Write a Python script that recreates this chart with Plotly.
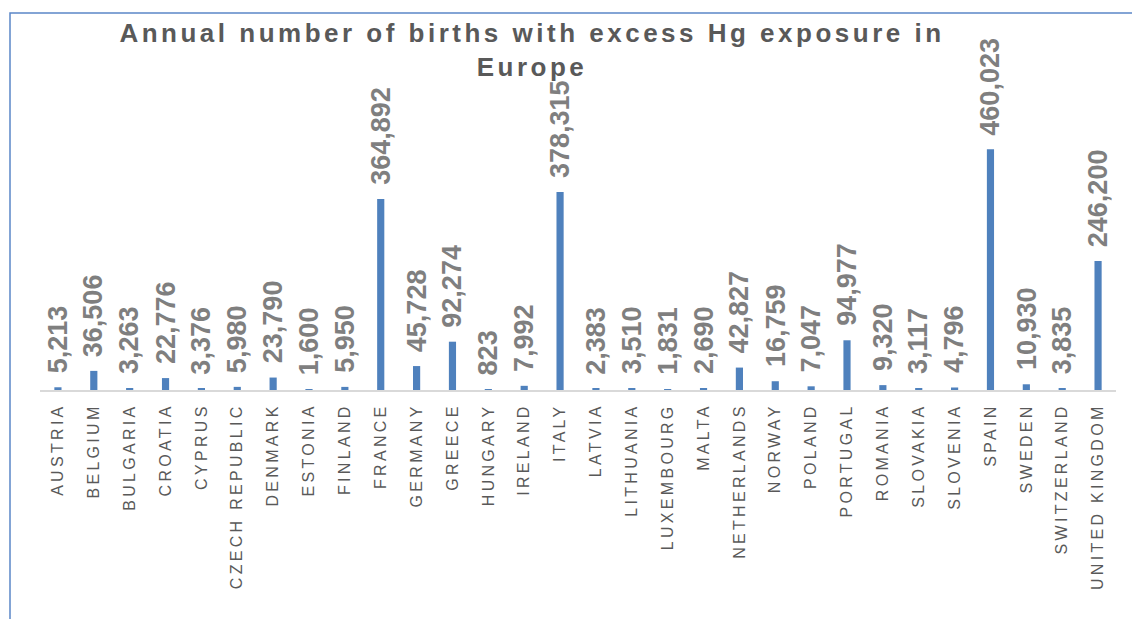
import plotly.graph_objects as go

countries = ["AUSTRIA", "BELGIUM", "BULGARIA", "CROATIA", "CYPRUS", "CZECH REPUBLIC",
             "DENMARK", "ESTONIA", "FINLAND", "FRANCE", "GERMANY", "GREECE", "HUNGARY",
             "IRELAND", "ITALY", "LATVIA", "LITHUANIA", "LUXEMBOURG", "MALTA",
             "NETHERLANDS", "NORWAY", "POLAND", "PORTUGAL", "ROMANIA", "SLOVAKIA",
             "SLOVENIA", "SPAIN", "SWEDEN", "SWITZERLAND", "UNITED KINGDOM"]
births = [5213, 36506, 3263, 22776, 3376, 5980, 23790, 1600, 5950, 364892, 45728,
          92274, 823, 7992, 378315, 2383, 3510, 1831, 2690, 42827, 16759, 7047,
          94977, 9320, 3117, 4796, 460023, 10930, 3835, 246200]
title_text = "Annual number of births with excess Hg exposure in<br>Europe"

W, H = 1132, 619
ML, MR, MT, MB = 40, 16, 100, 229

fig = go.Figure(go.Bar(
    x=countries, y=births,
    marker=dict(color="#4F81BD", line=dict(width=0)),
    hoverinfo="x+y",
))

for c, v in zip(countries, births):
    fig.add_annotation(
        x=c, y=v, text=f"{v:,}", textangle=-90, showarrow=False,
        xanchor="center", yanchor="bottom", yshift=12, xshift=0,
        font=dict(family="Liberation Sans, Arial, sans-serif", size=27,
                  color="#7F7F7F", weight="bold"),
    )

plot_h = H - MT - MB
fig.add_shape(type="rect", xref="paper", yref="paper",
              x0=(10 - ML) / (W - ML - MR), x1=1.2,
              y0=-1.0, y1=(plot_h + MT - 13) / plot_h,
              line=dict(color="#5B87C8", width=1.5), fillcolor="rgba(0,0,0,0)",
              layer="below")

fig.update_layout(
    width=W, height=H,
    margin=dict(l=ML, r=MR, t=MT, b=MB, autoexpand=False),
    paper_bgcolor="white", plot_bgcolor="white",
    bargap=0.8,
    showlegend=False,
    title=dict(text=title_text, x=532 / W, xanchor="center", xref="container",
               y=1 - 42 / H, yanchor="top", yref="container",
               font=dict(family="Liberation Sans, Arial, sans-serif", size=26,
                         color="#595959", weight="bold")),
    xaxis=dict(
        type="category", tickmode="array", tickvals=countries, ticktext=countries,
        tickangle=-90, showline=True, linecolor="#D9D9D9", linewidth=2,
        showgrid=False, zeroline=False, ticks="", ticklabelstandoff=5,
        tickfont=dict(family="Liberation Sans, Arial, sans-serif", size=16, color="#595959"),
    ),
    yaxis=dict(range=[0, 554000], visible=False, showgrid=False, zeroline=False),
)

post = ("document.body.style.margin='0';"
        "var s=document.createElement('style');"
        "s.textContent='body{margin:0}.gtitle{letter-spacing:3.5px}.xtick text{letter-spacing:3.3px}';"
        "document.head.appendChild(s);")
fig.write_html("out.html", post_script=post, config={"displayModeBar": False})
